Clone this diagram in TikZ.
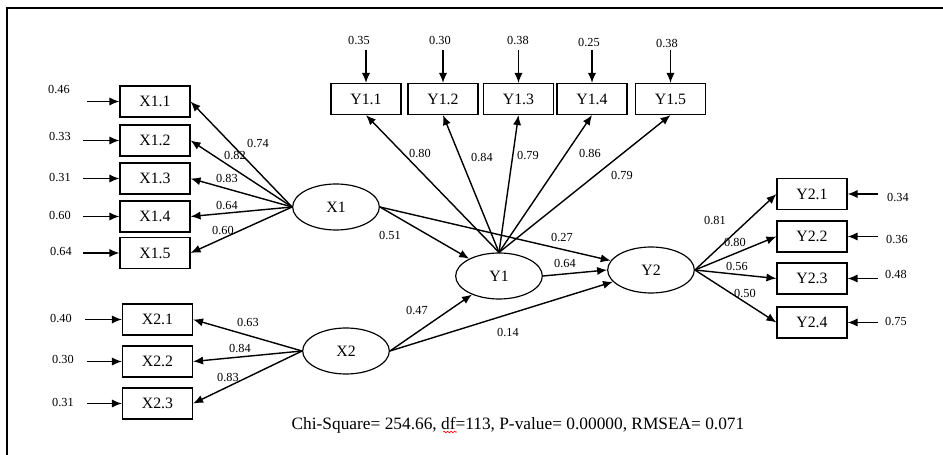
\documentclass[tikz,border=0pt]{standalone}
\usepackage{fontspec}
\setmainfont{Liberation Serif}
\usetikzlibrary{arrows.meta, shapes.geometric, decorations.pathmorphing}

\tikzset{
  ind/.style={draw, line width=1pt, rectangle, minimum width=2.1cm, minimum height=0.93cm, inner sep=0pt, font=\fontsize{13.5}{16}\selectfont},
  lat/.style={draw, line width=1pt, ellipse, minimum width=2.6cm, minimum height=1.38cm, inner sep=0pt, font=\fontsize{13.5}{16}\selectfont},
  num/.style={inner sep=1pt, font=\fontsize{10.5}{12}\selectfont},
  link/.style={line width=1.2pt, arrows={-Latex[length=8.5pt,width=7pt]}}
}

\begin{document}
\begin{tikzpicture}[x=0.03cm, y=-0.03cm]
  \useasboundingbox (0,0) rectangle (943,455);
  % frame
  \draw [line width=1.5pt] (7,455) -- (7,8) -- (943,8);
  % latent variables
  \node [lat] (X1) at (336,207) {X1};
  \node [lat] (X2) at (346,351) {X2};
  \node [lat] (Y1) at (499,276) {Y1};
  \node [lat] (Y2) at (651,270) {Y2};
  % indicators of X1 and X2
  \node [ind] (X11) at (155,101.5) {X1.1};
  \node [ind] (X12) at (155,140.5) {X1.2};
  \node [ind] (X13) at (155,178.5) {X1.3};
  \node [ind] (X14) at (155,216.5) {X1.4};
  \node [ind] (X15) at (155,253) {X1.5};
  \node [ind] (X21) at (157.5,319.5) {X2.1};
  \node [ind] (X22) at (157.5,361.5) {X2.2};
  \node [ind] (X23) at (157.5,403.5) {X2.3};
  % indicators of Y1 and Y2
  \node [ind] (Y11) at (366,99) {Y1.1};
  \node [ind] (Y12) at (443,99) {Y1.2};
  \node [ind] (Y13) at (518.5,99) {Y1.3};
  \node [ind] (Y14) at (592,99) {Y1.4};
  \node [ind] (Y15) at (670.5,99) {Y1.5};
  \node [ind] (Y21) at (812,194) {Y2.1};
  \node [ind] (Y22) at (812,236.5) {Y2.2};
  \node [ind] (Y23) at (812,278.5) {Y2.3};
  \node [ind] (Y24) at (812,322.5) {Y2.4};
  % tails of the error arrows
  \coordinate (e11) at (87,101.5);
  \coordinate (e12) at (83,140.5);
  \coordinate (e13) at (83,178.5);
  \coordinate (e14) at (83,216.5);
  \coordinate (e15) at (83,253);
  \coordinate (e21) at (85,319.5);
  \coordinate (e22) at (87,361.5);
  \coordinate (e23) at (87,403.5);
  \coordinate (f11) at (366,50);
  \coordinate (f12) at (443,50);
  \coordinate (f13) at (518.5,50);
  \coordinate (f14) at (592,50);
  \coordinate (f15) at (670.5,50);
  \coordinate (f21) at (878,194);
  \coordinate (f22) at (878,236.5);
  \coordinate (f23) at (878,278.5);
  \coordinate (f24) at (878,322.5);
  % error arrows
  \draw [link] (e11) -- (X11.west);
  \draw [link] (e12) -- (X12.west);
  \draw [link] (e13) -- (X13.west);
  \draw [link] (e14) -- (X14.west);
  \draw [link] (e15) -- (X15.west);
  \draw [link] (e21) -- (X21.west);
  \draw [link] (e22) -- (X22.west);
  \draw [link] (e23) -- (X23.west);
  \draw [link] (f11) -- (Y11.north);
  \draw [link] (f12) -- (Y12.north);
  \draw [link] (f13) -- (Y13.north);
  \draw [link] (f14) -- (Y14.north);
  \draw [link] (f15) -- (Y15.north);
  \draw [link] (f21) -- (Y21.east);
  \draw [link] (f22) -- (Y22.east);
  \draw [link] (f23) -- (Y23.east);
  \draw [link] (f24) -- (Y24.east);
  % error variances
  \node [num] (v11) at (59,89) {0.46};
  \node [num] (v12) at (60,136) {0.33};
  \node [num] (v13) at (60,177) {0.31};
  \node [num] (v14) at (60,215) {0.60};
  \node [num] (v15) at (61,251) {0.64};
  \node [num] (v21) at (61,318) {0.40};
  \node [num] (v22) at (63,359) {0.30};
  \node [num] (v23) at (63,402) {0.31};
  \node [num] (w11) at (359,40) {0.35};
  \node [num] (w12) at (440,40) {0.30};
  \node [num] (w13) at (518,40) {0.38};
  \node [num] (w14) at (589,42) {0.25};
  \node [num] (w15) at (667,43) {0.38};
  \node [num] (w21) at (898,197) {0.34};
  \node [num] (w22) at (897,239) {0.36};
  \node [num] (w23) at (896,274) {0.48};
  \node [num] (w24) at (896,321) {0.75};
  % loadings
  \draw [link] (X1.west) -- (X11.east);
  \draw [link] (X1.west) -- (X12.east);
  \draw [link] (X1.west) -- (X13.east);
  \draw [link] (X1.west) -- (X14.east);
  \draw [link] (X1.west) -- (X15.east);
  \draw [link] (X2.west) -- (X21.east);
  \draw [link] (X2.west) -- (X22.east);
  \draw [link] (X2.west) -- (X23.east);
  \draw [link] (Y1.north) -- (Y11.south);
  \draw [link] (Y1.north) -- (Y12.south);
  \draw [link] (Y1.north) -- (Y13.south);
  \draw [link] (Y1.north) -- (Y14.south);
  \draw [link] (Y1.north) -- (Y15.south);
  \draw [link] (Y2.east) -- (Y21.west);
  \draw [link] (Y2.east) -- (Y22.west);
  \draw [link] (Y2.east) -- (Y23.west);
  \draw [link] (Y2.east) -- (Y24.west);
  % structural paths
  \draw [link] (X1.east) -- (Y1);
  \draw [link] (X1.east) -- (Y2);
  \draw [link] (Y1.east) -- (Y2.west);
  \draw [link] (X2.east) -- (Y1);
  \draw [link] (X2.east) -- (Y2);
  % loading labels
  \node [num] (a11) at (258,143) {0.74};
  \node [num] (a12) at (235,155) {0.82};
  \node [num] (a13) at (227,178) {0.83};
  \node [num] (a14) at (227,205) {0.64};
  \node [num] (a15) at (223,230) {0.60};
  \node [num] (a21) at (248,322) {0.63};
  \node [num] (a22) at (240,348) {0.84};
  \node [num] (a23) at (228,377) {0.83};
  \node [num] (b11) at (420,153) {0.80};
  \node [num] (b12) at (482,157) {0.84};
  \node [num] (b13) at (528,155) {0.79};
  \node [num] (b14) at (590,153) {0.86};
  \node [num] (b15) at (622,175) {0.79};
  \node [num] (b21) at (715,220) {0.81};
  \node [num] (b22) at (735,242) {0.80};
  \node [num] (b23) at (737,266) {0.56};
  \node [num] (b24) at (745,293) {0.50};
  % path labels
  \node [num] (p1) at (390,235) {0.51};
  \node [num] (p2) at (562,237) {0.27};
  \node [num] (p3) at (565,263) {0.64};
  \node [num] (p4) at (417,310) {0.47};
  \node [num] (p5) at (508,332) {0.14};
  % fit statistics
  \node [font=\fontsize{14.8}{17}\selectfont] (fit) at (518,425)
    {Chi-Square= 254.66, df=113, P-value= 0.00000, RMSEA= 0.071};
  \draw [red, line width=0.6pt, decorate, decoration={snake, amplitude=0.6pt, segment length=3pt}] (443,432) -- (457,432);
\end{tikzpicture}
\end{document}
